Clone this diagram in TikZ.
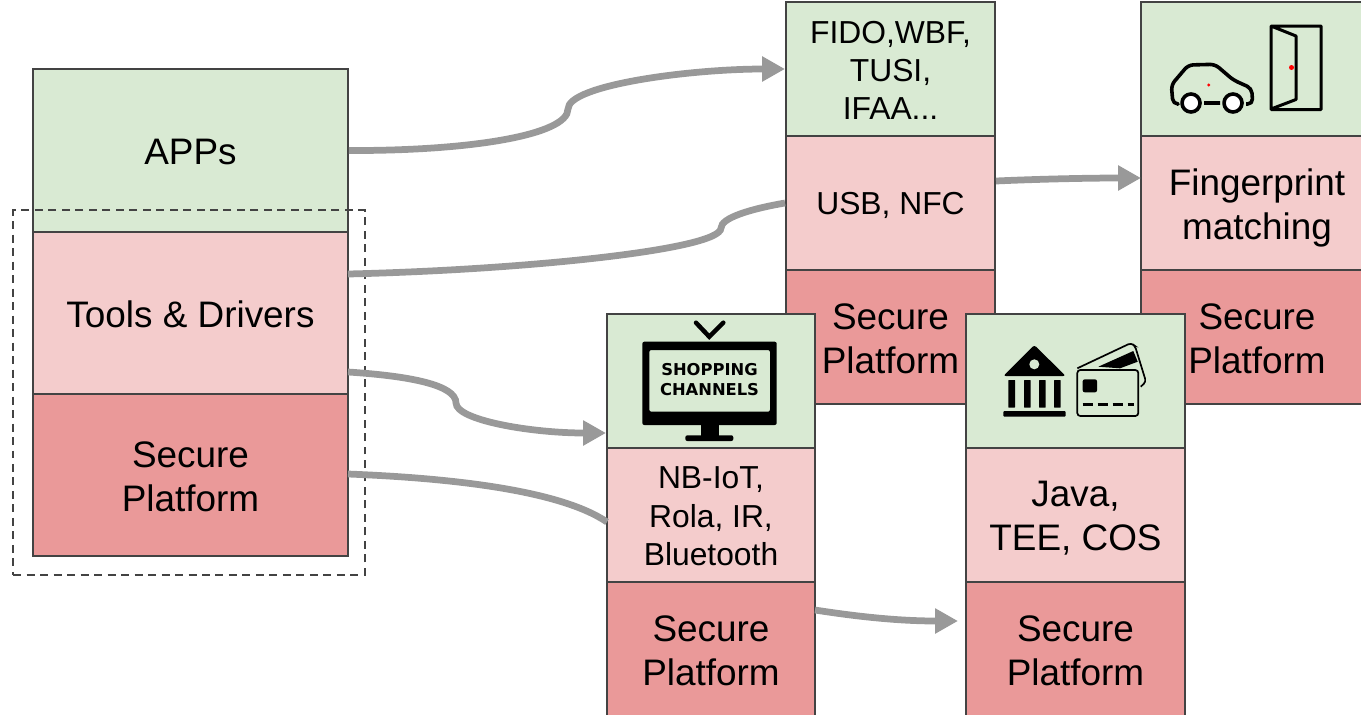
\documentclass[tikz,border=0pt]{standalone}
\usepackage{fontspec}
\setmainfont{Liberation Sans}
\newfontfamily\iconfont{DejaVu Sans}
\usetikzlibrary{arrows.meta}

\definecolor{appgreen}{HTML}{D9EAD3}
\definecolor{toolpink}{HTML}{F4CCCC}
\definecolor{securered}{HTML}{EA9999}
\definecolor{boxline}{HTML}{434343}
\definecolor{linkgray}{HTML}{999999}

\newcommand{\topgap}[1]{\rule{0pt}{#1}}
\newcommand{\securetext}{\topgap{16.2pt}Secure\\Platform}

\begin{document}
\begin{tikzpicture}[x = 0.02cm, y = -0.02cm,
        stackbox/.style = {draw = boxline, line width = 0.4mm, align = center, inner sep = 0pt,
            font = \fontsize{21}{25}\selectfont},
        smalltext/.style = {font = \fontsize{18.1}{21.8}\selectfont},
        appbox/.style = {stackbox, fill = appgreen},
        toolbox/.style = {stackbox, fill = toolpink},
        securebox/.style = {stackbox, fill = securered},
        link/.style = {draw = linkgray, line width = 1.35mm},
        linktip/.style = {link, -{Triangle[length = 4.6mm, width = 4.8mm]}},
        iconline/.style = {line width = 0.72mm, line join = round}]
    \useasboundingbox (0, 0) rectangle (1361, 714);
    \clip (0, 0) rectangle (1361, 714);

    % upper stacks
    \node [appbox, smalltext, minimum width = 4.18cm, minimum height = 2.68cm] (fido) at (890.5, 69) {\topgap{14pt}FIDO,WBF,\\TUSI,\\IFAA...};
    \node [toolbox, smalltext, minimum width = 4.18cm, minimum height = 2.68cm] (usb) at (890.5, 203) {\topgap{15.5pt}USB, NFC};
    \node [securebox, minimum width = 4.18cm, minimum height = 2.68cm] (securea) at (890.5, 337) {\securetext};

    \node [appbox, minimum width = 4.64cm, minimum height = 2.68cm] (door) at (1257, 69) {};
    \node [toolbox, minimum width = 4.64cm, minimum height = 2.68cm] (finger) at (1257, 203) {\topgap{21pt}Fingerprint\\matching};
    \node [securebox, minimum width = 4.64cm, minimum height = 2.68cm] (secureb) at (1257, 337) {\securetext};

    % lower stacks
    \node [appbox, minimum width = 4.16cm, minimum height = 2.68cm] (shop) at (711, 381) {};
    \node [toolbox, smalltext, minimum width = 4.16cm, minimum height = 2.68cm] (iot) at (711, 515) {\topgap{14pt}NB-IoT,\\Rola, IR,\\Bluetooth};
    \node [securebox, minimum width = 4.16cm, minimum height = 2.68cm] (securec) at (711, 649) {\securetext};

    \node [appbox, minimum width = 4.38cm, minimum height = 2.68cm] (bank) at (1075.5, 381) {};
    \node [toolbox, minimum width = 4.38cm, minimum height = 2.68cm] (java) at (1075.5, 515) {\topgap{18.2pt}Java,\\TEE, COS};
    \node [securebox, minimum width = 4.38cm, minimum height = 2.68cm] (secured) at (1075.5, 649) {\securetext};

    % left stack
    \node [appbox, minimum width = 6.3cm, minimum height = 3.26cm] (apps) at (190.5, 150.5) {\topgap{16.5pt}APPs};
    \node [toolbox, minimum width = 6.3cm, minimum height = 3.24cm] (tools) at (190.5, 313) {\topgap{16.5pt}Tools \& Drivers};
    \node [securebox, minimum width = 6.3cm, minimum height = 3.24cm] (secure) at (190.5, 475) {\securetext};
    \node [draw = boxline, dash pattern = on 1.6mm off 1.1mm, line width = 0.3mm, minimum width = 7.04cm, minimum height = 7.3cm] (group) at (189, 392.5) {};

    \coordinate (appsmid) at (568, 109);
    \coordinate (toolsout) at (348, 274);
    \coordinate (toolsmid) at (721, 228);
    \coordinate (driverout) at (348, 372);
    \coordinate (drivermid) at (456, 403);
    \coordinate (shopin) at (606, 433);
    \coordinate (secureout) at (348, 474);
    \coordinate (iotin) at (607, 522);
    \coordinate (iotout) at (815, 610);
    \coordinate (javain) at (958, 621);
    \coordinate (usbout) at (996, 181);
    \coordinate (fingerin) at (1141, 178);

    \draw [linktip]
        (apps.east) .. controls (470, 151) and (568, 135) .. (appsmid)
        .. controls (568, 85) and (690, 69) .. (fido.west)
    ;
    \draw [link]
        (toolsout) .. controls (520, 270) and (721, 250) .. (toolsmid)
        .. controls (721, 218) and (750, 209) .. (usb.west)
    ;
    \draw [linktip]
        (driverout) .. controls (410, 376) and (456, 385) .. (drivermid)
        .. controls (456, 420) and (530, 433) .. (shopin)
    ;
    \draw [link]
        (secureout) .. controls (450, 478) and (560, 490) .. (iotin)
    ;
    \draw [linktip]
        (iotout) .. controls (860, 617) and (900, 621) .. (javain)
    ;
    \draw [linktip]
        (usbout) .. controls (1040, 179) and (1090, 178) .. (fingerin)
    ;

    % car and door
    \draw [iconline, rounded corners = 0.1cm]
        (1177, 104) -- (1173, 104) -- (1171.3, 85) -- (1188.3, 65) -- (1215, 64.3) -- (1233.3, 80)
        -- (1251.7, 88.3) -- (1252.7, 104) -- (1246, 104)
        (1204, 103) -- (1220, 103)
    ;
    \draw [iconline, fill = white]
        (1191, 103) circle [radius = 9]
        (1233, 103) circle [radius = 9]
    ;
    \draw [line width = 0.6mm, line join = round]
        (1271, 26) rectangle (1321, 109.5)
        (1271, 26) -- (1296, 36) -- (1296, 99.5) -- (1271, 109)
    ;
    \fill [red]
        (1208.7, 85) circle [radius = 1.7]
        (1291.5, 67.5) circle [radius = 2.5]
    ;

    % television
    \draw [line width = 0.9mm, line cap = round]
        (696, 322.7) -- (709.3, 336.7) -- (723.3, 322.7)
    ;
    \fill [even odd rule, rounded corners = 0.04cm]
        (642.3, 341.7) rectangle (776.7, 425)
        (649.3, 350) rectangle (770, 411.7)
    ;
    \fill
        (700.7, 424) rectangle (719.3, 436)
    ;
    \fill [rounded corners = 0.04cm]
        (685.3, 435.3) rectangle (733.3, 441)
    ;
    \node [font = \iconfont\bfseries\fontsize{9.3}{11.2}\selectfont, align = center, inner sep = 0pt] (channels) at (709.5, 379.5) {SHOPPING\\CHANNELS};

    % bank and cards
    \fill [rounded corners = 0.05cm]
        (1003.3, 376) -- (1034.3, 345) -- (1065.7, 376) -- cycle
    ;
    \fill [appgreen]
        (1034.3, 364.3) circle [radius = 5]
    ;
    \foreach \colx in {1008.3, 1024, 1039, 1054} {
        \fill [rounded corners = 0.01cm] (\colx, 380) rectangle ++(6.7, 27.7);
    }
    \fill [rounded corners = 0.02cm]
        (1003.3, 411) rectangle (1065.7, 416.7)
    ;
    \draw [line width = 0.34mm, rounded corners = 0.06cm]
        (1077.3, 370) rectangle (1138.3, 416)
        (1077.3, 368.3) -- (1131, 343) -- (1135, 346) -- (1146, 381.7) -- (1140.7, 386.7)
    ;
    \fill
        (1098.3, 366.7) -- (1133.3, 351) -- (1137.7, 361.7) -- (1120, 368.3) -- cycle
    ;
    \fill [rounded corners = 0.04cm]
        (1082.7, 379.3) rectangle (1097, 392.3)
    ;
    \draw [line width = 0.5mm, dash pattern = on 2.1mm off 0.9mm]
        (1082.7, 404.3) -- (1134, 404.3)
    ;
\end{tikzpicture}
\end{document}
